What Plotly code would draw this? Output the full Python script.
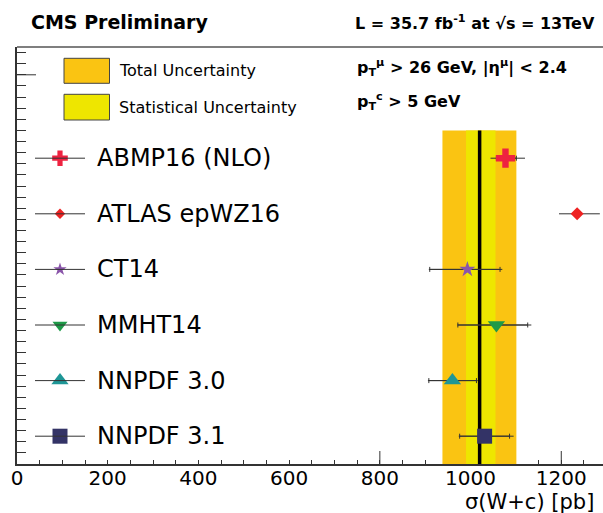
import plotly.graph_objects as go

# ---------------- data ----------------
pdf_names = ["ABMP16 (NLO)", "ATLAS epWZ16", "CT14", "MMHT14", "NNPDF 3.0", "NNPDF 3.1"]
pred_val = [1077, 1235, 993, 1057, 960, 1031]
inner_lo = [1057, 1235, 910, 972, 908, 976]
inner_hi = [1101, 1235, 1065, 1126, 1013, 1086]
outer_lo = [1044, 1195, 908, 971, 906, 974]
outer_hi = [1120, 1285, 1070, 1134, 1016, 1095]
symbols = ["cross", "diamond", "star", "triangle-down", "triangle-up", "square"]
colors = ["#EE2240", "#EE2222", "#8A55AA", "#1E9A48", "#1E9696", "#333366"]
msize_plot = [16, 10, 12, 15, 15, 15]
msize_leg = [13, 8, 10, 13, 15, 15]

meas_val = 1020
stat_lo, stat_hi = 990, 1055
tot_lo, tot_hi = 938, 1101

x_ticks = [0, 200, 400, 600, 800, 1000, 1200]
x_range = [0, 1292]
y_range = [0, 7.5]

FONT = "DejaVu Sans"
W, H = 603, 513
L, R, T, B = 17, 0, 47, 49
PW, PH = W - L - R, H - T - B

def px(x):
    return (x - L) / PW

def py(y):
    return (H - B - y) / PH

n = len(pdf_names)
rows = [n - 0.5 - i for i in range(n)]  # top row first
band_top = n

fig = go.Figure()

# total & stat uncertainty bands
fig.add_trace(go.Scatter(x=[tot_lo, tot_hi, tot_hi, tot_lo, tot_lo], y=[0, 0, band_top, band_top, 0],
                         fill="toself", fillcolor="#FAC412", mode="none", hoverinfo="skip", showlegend=False))
fig.add_trace(go.Scatter(x=[stat_lo, stat_hi, stat_hi, stat_lo, stat_lo], y=[0, 0, band_top, band_top, 0],
                         fill="toself", fillcolor="#EEE600", mode="none", hoverinfo="skip", showlegend=False))
fig.add_trace(go.Scatter(x=[meas_val, meas_val], y=[0, band_top], mode="lines",
                         line=dict(color="black", width=3.5), hoverinfo="skip", showlegend=False))

# predictions
for i in range(n):
    # outer error (no caps)
    fig.add_trace(go.Scatter(x=[outer_lo[i], outer_hi[i]], y=[rows[i], rows[i]], mode="lines",
                             line=dict(color="#333333", width=1), hoverinfo="skip", showlegend=False))
    if inner_hi[i] > inner_lo[i]:
        fig.add_trace(go.Scatter(x=[pred_val[i]], y=[rows[i]], mode="markers",
                                 marker=dict(size=1, opacity=0),
                                 error_x=dict(type="data", symmetric=False,
                                              array=[inner_hi[i] - pred_val[i]],
                                              arrayminus=[pred_val[i] - inner_lo[i]],
                                              color="#333333", thickness=1, width=2.5),
                                 hoverinfo="skip", showlegend=False))
    fig.add_trace(go.Scatter(x=[pred_val[i]], y=[rows[i]], mode="markers",
                             marker=dict(symbol=symbols[i], size=msize_plot[i], color=colors[i],
                                         line=dict(width=0)),
                             name=pdf_names[i], showlegend=False))

# left legend: line + marker + text per row
for i in range(n):
    fig.add_shape(type="line", xref="paper", yref="y", x0=px(35), x1=px(85), y0=rows[i], y1=rows[i],
                  line=dict(color="#333333", width=1))
    fig.add_trace(go.Scatter(x=[px(60)], y=[rows[i]], xaxis="x2", mode="markers",
                             marker=dict(symbol=symbols[i], size=msize_leg[i], color=colors[i],
                                         line=dict(width=0)),
                             hoverinfo="skip", showlegend=False))
    fig.add_annotation(x=px(95), y=rows[i], xref="paper", yref="y", text=pdf_names[i],
                       showarrow=False, xanchor="left", yanchor="middle",
                       font=dict(family=FONT, size=24, color="black"))

# band legend boxes
for (y0, y1, col, label) in [(58.3, 83.3, "#FAC412", "Total Uncertainty"),
                             (94.3, 120, "#EEE600", "Statistical Uncertainty")]:
    fig.add_shape(type="rect", xref="paper", yref="paper", x0=px(64), x1=px(109.5),
                  y0=py(y1), y1=py(y0), fillcolor=col, line=dict(color="#444444", width=1))
    fig.add_annotation(x=px(117), y=py((y0 + y1) / 2), xref="paper", yref="paper", text=label,
                       showarrow=False, xanchor="left", yanchor="middle",
                       font=dict(family=FONT, size=16, color="black"))

# kinematic cuts
fig.add_annotation(x=px(355), y=py(67), xref="paper", yref="paper",
                   text="<b>p<sub>T</sub><sup>μ</sup> > 26 GeV, |η<sup>μ</sup>| < 2.4</b>",
                   showarrow=False, xanchor="left", yanchor="middle",
                   font=dict(family=FONT, size=16, color="black"))
fig.add_annotation(x=px(355), y=py(102), xref="paper", yref="paper",
                   text="<b>p<sub>T</sub><sup>c</sup> > 5 GeV</b>",
                   showarrow=False, xanchor="left", yanchor="middle",
                   font=dict(family=FONT, size=16, color="black"))

# header texts
fig.add_annotation(x=px(29), y=py(22), xref="paper", yref="paper", text="<b>CMS Preliminary</b>",
                   showarrow=False, xanchor="left", yanchor="middle",
                   font=dict(family=FONT, size=19, color="black"))
fig.add_annotation(x=px(597), y=py(23), xref="paper", yref="paper",
                   text="<b>L = 35.7 fb<sup>-1</sup> at √s = 13TeV</b>",
                   showarrow=False, xanchor="right", yanchor="middle",
                   font=dict(family=FONT, size=16, color="black"))

# axis title
fig.add_annotation(x=px(596), y=py(502), xref="paper", yref="paper", text="σ(W+c) [pb]",
                   showarrow=False, xanchor="right", yanchor="middle",
                   font=dict(family=FONT, size=21, color="black"))

# long ticks
for xv in [800, 1200]:
    fig.add_shape(type="line", xref="x", yref="paper", x0=xv, x1=xv, y0=0, y1=13 / PH,
                  line=dict(color="#333333", width=1))
fig.add_shape(type="line", xref="paper", yref="y", x0=0, x1=19 / PW, y0=7, y1=7,
              line=dict(color="#333333", width=1))
# top frame line
fig.add_shape(type="line", xref="paper", yref="paper", x0=0, x1=1, y0=1, y1=1,
              line=dict(color="#555555", width=1.5))

fig.update_layout(
    width=W, height=H,
    margin=dict(l=L, r=R, t=T, b=B),
    paper_bgcolor="white", plot_bgcolor="white",
    showlegend=False,
    xaxis=dict(range=x_range, tickvals=x_ticks, ticks="inside", ticklen=4, tickcolor="#333333",
               showgrid=False, zeroline=False, showline=True, linecolor="#333333", linewidth=1.5,
               tickfont=dict(family=FONT, size=20, color="black"), ticklabelstandoff=-5,
               minor=dict(dtick=50, tick0=0, ticks="inside", ticklen=4, tickcolor="#333333"),
               layer="below traces"),
    xaxis2=dict(range=[0, 1], overlaying="x", visible=False, domain=[0, 1]),
    yaxis=dict(range=y_range, dtick=0.2, tick0=0, ticks="inside", ticklen=9, tickcolor="#333333",
               showticklabels=False, showgrid=False, zeroline=False, showline=True,
               linecolor="#333333", linewidth=1.5, layer="below traces"),
)

fig.write_html("out.html")
